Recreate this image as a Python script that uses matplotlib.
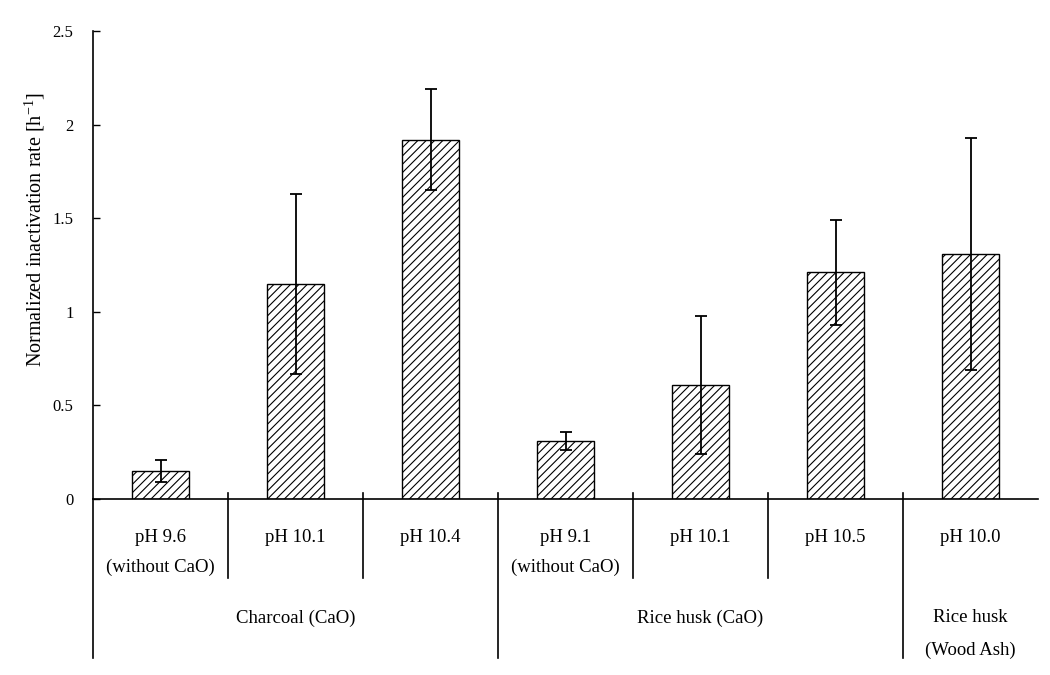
import matplotlib
matplotlib.use("Agg")
import matplotlib.pyplot as plt
import matplotlib.transforms as mtransforms

plt.rcParams['font.family'] = ['Liberation Serif', 'DejaVu Serif']
plt.rcParams['hatch.linewidth'] = 0.8

ph_labels = ["pH 9.6\n(without CaO)", "pH 10.1", "pH 10.4",
             "pH 9.1\n(without CaO)", "pH 10.1", "pH 10.5", "pH 10.0"]
values = [0.15, 1.15, 1.92, 0.31, 0.61, 1.21, 1.31]
errors = [0.06, 0.48, 0.27, 0.05, 0.37, 0.28, 0.62]
groups = ["Charcoal (CaO)", "Rice husk (CaO)", "Rice husk\n(Wood Ash)"]
group_sizes = [3, 3, 1]
yticks = [0, 0.5, 1, 1.5, 2, 2.5]
ytick_labels = ["0", "0.5", "1", "1.5", "2", "2.5"]

fig = plt.figure(figsize=(10.5, 6.75), dpi=100)
ax = fig.add_axes([93/1050, 1-499/675, 945/1050, 468/675])

x = list(range(len(values)))
ax.bar(x, values, width=0.42, color='white', edgecolor='black', linewidth=1.0,
       hatch='////', zorder=2)
ax.errorbar(x, values, yerr=errors, fmt='none', ecolor='black', elinewidth=1.3,
            capsize=4, capthick=1.3, zorder=3)

ax.set_xlim(-0.5, len(values) - 0.5)
ax.set_ylim(0, 2.5)
ax.set_yticks(yticks)
ax.set_yticklabels(ytick_labels, fontsize=12)
ax.tick_params(axis='y', direction='in', length=5, width=1, pad=14)
ax.set_xticks([])
for s in ['top', 'right']:
    ax.spines[s].set_visible(False)
for s in ['left', 'bottom']:
    ax.spines[s].set_linewidth(1.2)

ax.text(-0.062, 0.575, "Normalized inactivation rate [h$^{\\mathregular{-1}}$]",
        transform=ax.transAxes, rotation=90, ha='center', va='center',
        fontsize=14.5)

trans = mtransforms.blended_transform_factory(ax.transData, ax.transAxes)

# boundaries
bounds_long = set()
pos = -0.5
for g in group_sizes:
    pos += g
    bounds_long.add(pos)
for i in range(len(values) - 1):
    b = i + 0.5
    ybot = -0.340 if b in bounds_long else -0.169
    ax.plot([b, b], [0.0128, ybot], transform=trans, color='black', lw=1.2,
            clip_on=False)
# left extension
ax.plot([-0.5, -0.5], [0, -0.340], transform=trans, color='black', lw=1.2,
        clip_on=False)

FS = 13.5
for xi, lab in zip(x, ph_labels):
    for k, line in enumerate(lab.split("\n")):
        ax.text(xi, -0.083 - 0.064 * k, line, transform=trans, ha='center',
                va='center', fontsize=FS)

pos = -0.5
for g, n in zip(groups, group_sizes):
    center = pos + n / 2
    for k, line in enumerate(g.split("\n")):
        ax.text(center, -0.254 - 0.069 * k, line, transform=trans, ha='center',
                va='center', fontsize=FS)
    pos += n

fig.savefig("out.png", dpi=100)
